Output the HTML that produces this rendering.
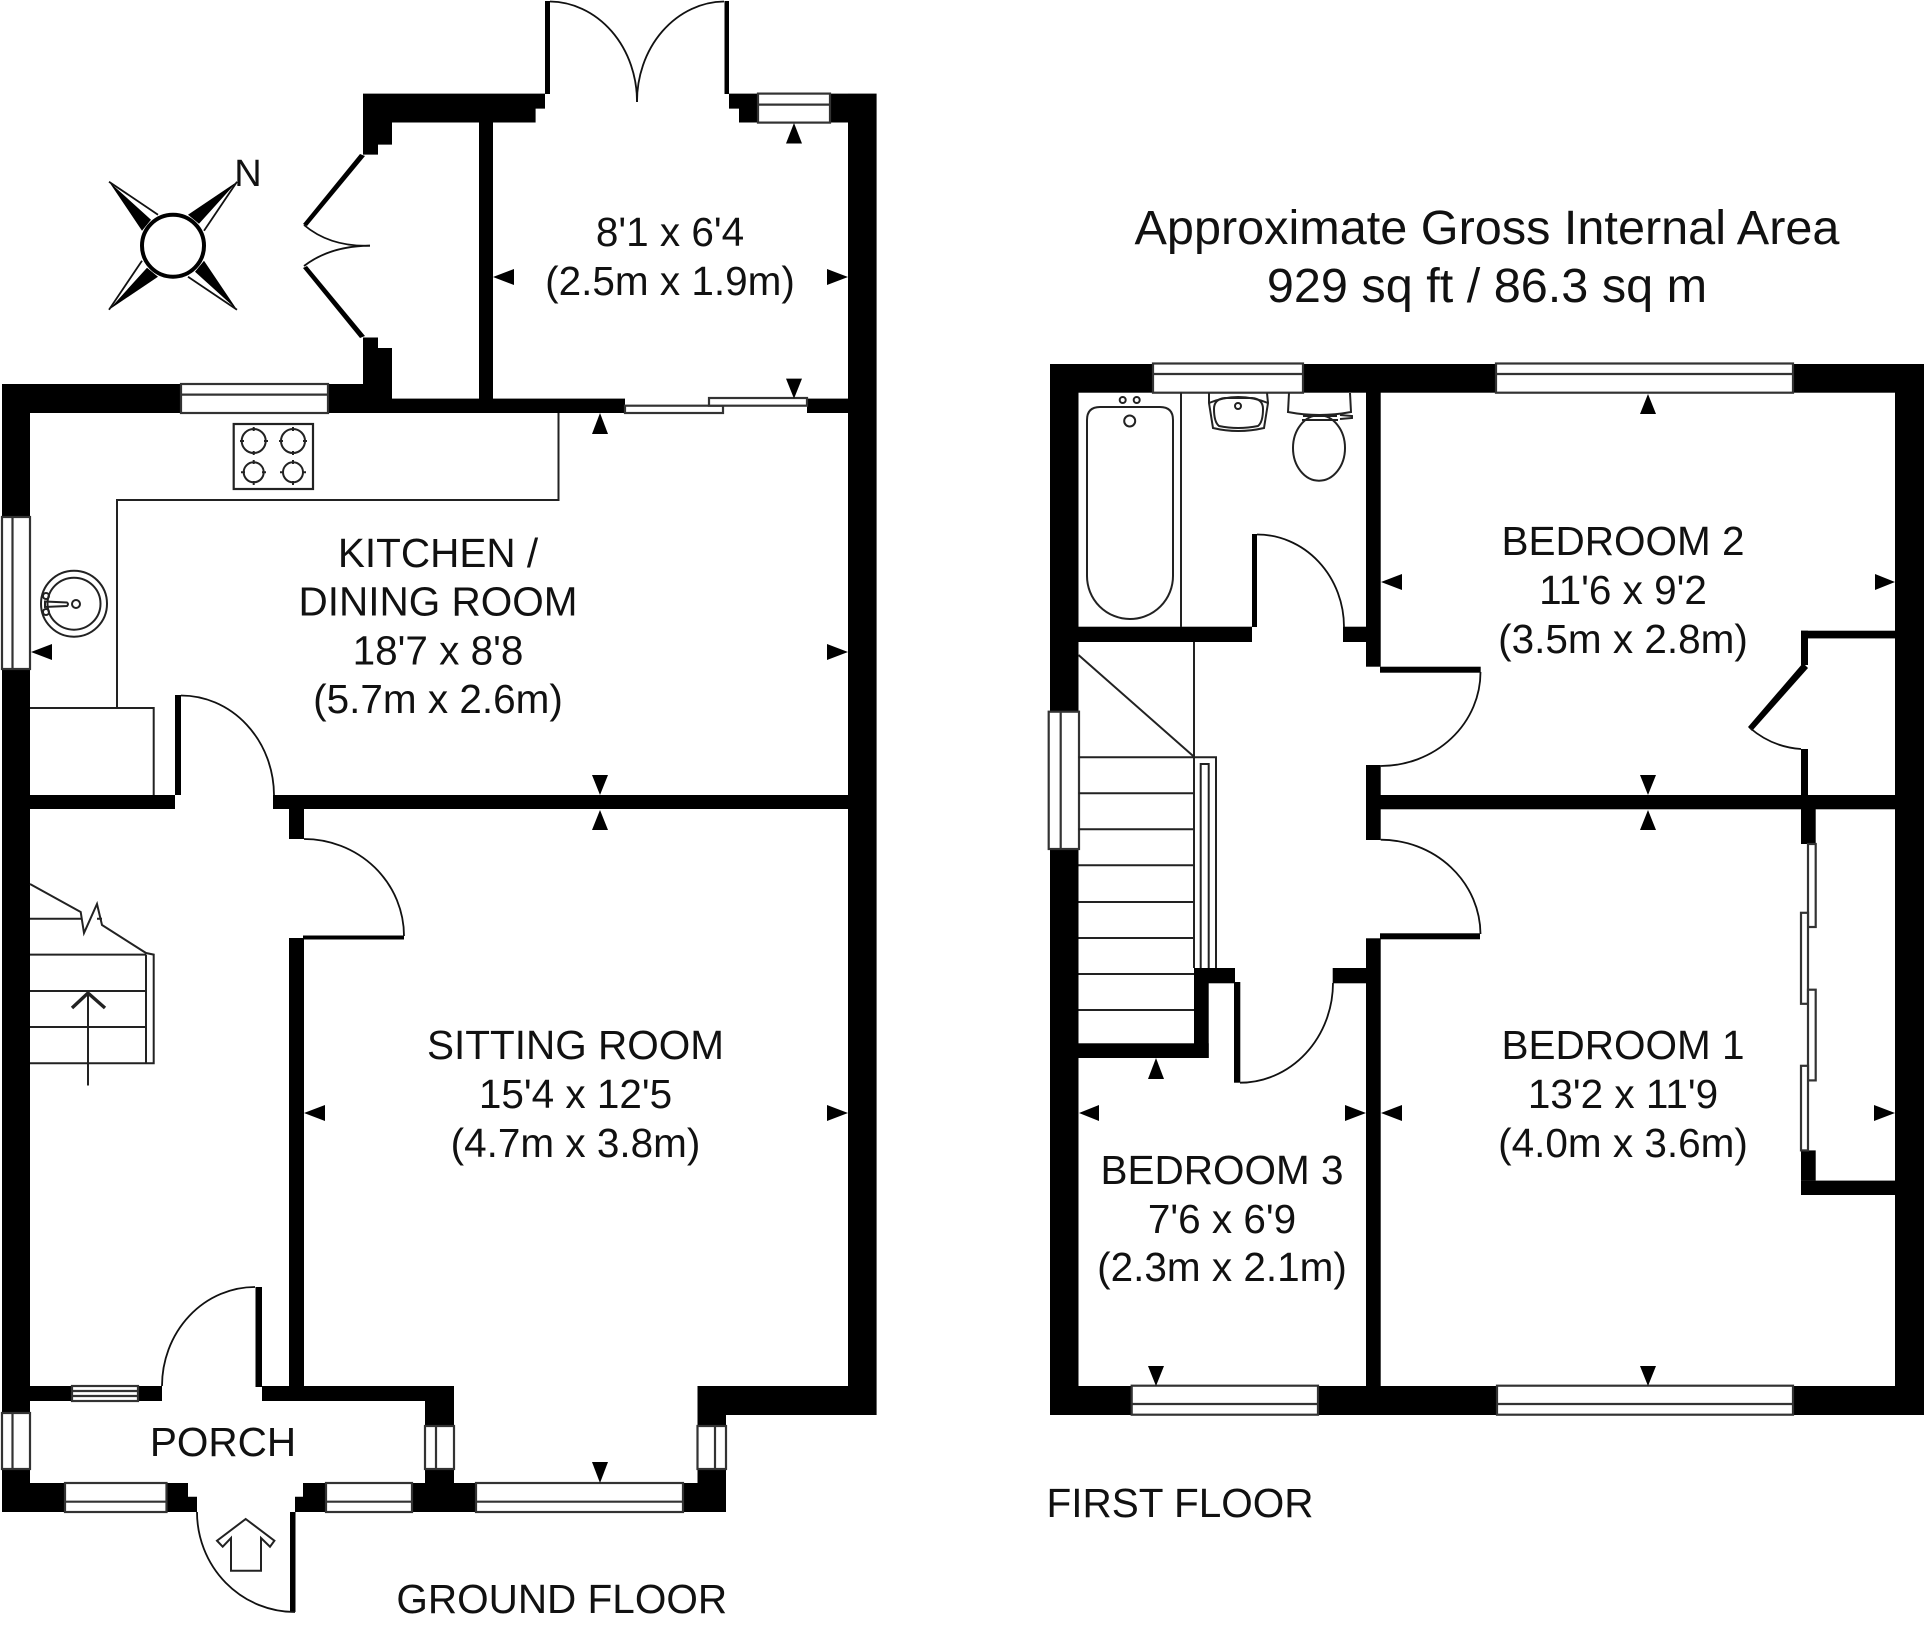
<!DOCTYPE html>
<html><head><meta charset="utf-8"><title>Floor plan</title>
<style>html,body{margin:0;padding:0;background:#fff;width:1924px;height:1628px;overflow:hidden}
svg{display:block}
text{font-family:"Liberation Sans",Arial,sans-serif;font-size:40.5px;fill:#111;text-anchor:middle}
.w{fill:#fff;stroke:#333;stroke-width:2.2}
.l{fill:none;stroke:#000;stroke-width:2.2}
.t{fill:none;stroke:#111;stroke-width:1.8}
.g{fill:none;stroke:#222;stroke-width:2}
</style></head><body>
<svg width="1924" height="1628" viewBox="0 0 1924 1628" xmlns="http://www.w3.org/2000/svg">
<rect width="1924" height="1628" fill="#fff"/>

<!-- GROUND FLOOR walls -->
<g fill="#000">
<rect x="2" y="384" width="28" height="1128"/>
<rect x="2" y="384" width="390" height="29"/>
<polygon points="363,93.6 363,154.6 378,154.6 378,144.6 392,144.6 392,122.5 535.6,122.5 535.6,108.6 545,108.6 545,93.6"/>
<polygon points="363,337.5 378,337.5 378,348 392,348 392,413 363,413"/>
<rect x="392" y="398.6" width="233" height="14.4"/>
<rect x="479" y="122" width="14" height="278"/>
<rect x="807" y="398.6" width="41" height="14.4"/>
<rect x="848" y="93.6" width="28.6" height="1321.4"/>
<polygon points="729,93.6 848,93.6 848,122.5 739,122.5 739,108.6 729,108.6"/>
<rect x="545" y="1" width="5" height="93"/>
<rect x="724.5" y="1" width="4.5" height="93"/>
<polygon points="360,154 365,156 307,226 303,224" />
<polygon points="360,338 365,336 307,266 303,268" />
<rect x="30" y="795" width="145" height="14"/>
<rect x="175" y="695" width="6" height="100"/>
<rect x="273" y="795" width="575" height="14"/>
<rect x="289" y="809" width="15" height="30"/>
<rect x="303" y="935.5" width="101" height="4"/>
<rect x="289" y="938" width="15" height="448"/>
<rect x="30" y="1386" width="132" height="15"/>
<rect x="255.5" y="1287" width="6.5" height="100"/>
<rect x="262" y="1386" width="192" height="15"/>
<rect x="425" y="1386" width="29" height="126"/>
<rect x="697.5" y="1386" width="179" height="29"/>
<rect x="697.5" y="1386" width="28.5" height="126"/>
<polygon points="2,1483 188,1483 188,1496.7 197,1496.7 197,1512 2,1512"/>
<polygon points="303,1483 726,1483 726,1512 295,1512 295,1496.7 303,1496.7"/>
<rect x="290" y="1512" width="5.5" height="100"/>
</g>
<rect x="454" y="1386" width="243.5" height="97" fill="#fff"/>

<!-- ground windows -->
<g class="w">
<rect x="181" y="384" width="147" height="29"/>
<path d="M181,394.6H328"/>
<rect x="758" y="93.6" width="72" height="29"/>
<path d="M758,104.6H830"/>
<rect x="625" y="405.7" width="98" height="7.3"/>
<rect x="709" y="398" width="98" height="7.7"/>
<rect x="2" y="517" width="28" height="152"/>
<path d="M12.5,517V669"/>
<rect x="72" y="1386" width="66" height="15"/>
<path d="M72,1391H138M72,1396H138"/>
<rect x="2" y="1413" width="28" height="56"/>
<path d="M12.5,1413V1469"/>
<rect x="425" y="1426" width="29" height="43"/>
<path d="M436,1426V1469"/>
<rect x="697.5" y="1426" width="28.5" height="43"/>
<path d="M715,1426V1469"/>
<rect x="65" y="1483" width="101.5" height="29"/>
<path d="M65,1501.7H166.5"/>
<rect x="326" y="1483" width="86" height="29"/>
<path d="M326,1501.7H412"/>
<rect x="476" y="1483" width="207" height="29"/>
<path d="M476,1501.7H683"/>
</g>

<!-- ground door arcs -->
<g class="t">
<path d="M550,1.5A88,100 0 0 1 637,102"/>
<path d="M724,1.5A88,100 0 0 0 637,102"/>
<path d="M304,225Q330,247 370,245.7"/>
<path d="M304,266Q330,246 370,245.7"/>
<path d="M181,695.5A93,100 0 0 1 274,795"/>
<path d="M304,839A100,97 0 0 1 404,936"/>
<path d="M255,1287A93,99 0 0 0 162,1386"/>
<path d="M197,1512A98,100 0 0 0 295,1612"/>
</g>

<!-- kitchen -->
<g class="g">
<path d="M558.5,413V500H117V708"/>
<path d="M30,708H153.7V795"/>
<rect x="233.7" y="424" width="79.3" height="65" stroke-width="2.2"/>
<circle cx="253.7" cy="441" r="12"/><circle cx="293" cy="441" r="12"/>
<circle cx="253.7" cy="472.3" r="10"/><circle cx="293" cy="472.3" r="10"/>
<path d="M253.7,427V431M253.7,451V455M240,441H244M264,441H268M293,427V431M293,451V455M279,441H283M303,441H307M253.7,460V464M253.7,481V485M241,472.3H245M262,472.3H266M293,460V464M293,481V485M280,472.3H284M302,472.3H306"/>
<ellipse cx="74" cy="603.7" rx="33" ry="33"/>
<ellipse cx="74" cy="603.7" rx="26.5" ry="26"/>
<circle cx="76" cy="604" r="4"/>
<path d="M45,601.5L67,602.5Q69,604 67,606L45,607Z"/>
<circle cx="46" cy="596" r="3"/><circle cx="46" cy="612" r="3"/>
</g>

<!-- ground stairs -->
<g class="g">
<path d="M30,884L80.7,912L84,933L97,904L102,925L146,953L153.7,954.6V1063.3H30"/>
<path d="M30,918.7H81M97,918.7H102M30,954.6H146M30,991H146M30,1027H146M146,954.6V1063.3"/>
<path d="M88,1085.5V993"/>
<path d="M72,1008L88,993L105,1008" stroke-width="3.4"/>
</g>

<!-- entry arrow -->
<path class="g" d="M245.7,1519L274.4,1540.7L270,1546.7L261,1538V1570.7H231V1538L222.7,1546.7L217,1540.7Z"/>

<!-- compass -->
<g transform="translate(173,245.7)">
<g><polygon points="64,-64 15,-31 26,-22" fill="#000"/><path d="M64,-64L31,-15" class="t"/></g>
<g transform="rotate(90)"><polygon points="64,-64 15,-31 26,-22" fill="#000"/><path d="M64,-64L31,-15" class="t"/></g>
<g transform="rotate(180)"><polygon points="64,-64 15,-31 26,-22" fill="#000"/><path d="M64,-64L31,-15" class="t"/></g>
<g transform="rotate(270)"><polygon points="64,-64 15,-31 26,-22" fill="#000"/><path d="M64,-64L31,-15" class="t"/></g>
<circle r="31" fill="#fff" stroke="#000" stroke-width="4"/>
</g>
<text x="248" y="186" style="font-size:38px">N</text>

<!-- FIRST FLOOR walls -->
<g fill="#000">
<rect x="1050" y="364" width="874" height="28.7"/>
<rect x="1050" y="364" width="28.5" height="1051"/>
<rect x="1895" y="364" width="29" height="1051"/>
<rect x="1050" y="1386" width="874" height="29"/>
<rect x="1366" y="392" width="14.7" height="274.7"/>
<rect x="1078" y="626.7" width="174" height="15.3"/>
<rect x="1252" y="534" width="5" height="93"/>
<rect x="1343" y="626.7" width="23" height="15.3"/>
<rect x="1380" y="666.7" width="100.7" height="6"/>
<rect x="1366" y="765" width="14.7" height="75"/>
<rect x="1380" y="795" width="515" height="14.3"/>
<rect x="1380" y="933.3" width="100" height="6"/>
<rect x="1366" y="938.3" width="14.7" height="450"/>
<rect x="1332.7" y="968" width="33.3" height="15.3"/>
<rect x="1194" y="968" width="41" height="15.3"/>
<rect x="1194" y="968" width="14.7" height="90"/>
<rect x="1078" y="1043.3" width="130.7" height="14.7"/>
<rect x="1234" y="982" width="6.3" height="100.7"/>
<rect x="1801" y="630.7" width="94" height="7.7"/>
<rect x="1801" y="630.7" width="7" height="34.3"/>
<polygon points="1803,663 1808,668 1752,731 1748,727"/>
<rect x="1801" y="749" width="7" height="46"/>
<rect x="1801" y="809" width="14.7" height="35"/>
<rect x="1801" y="1150.4" width="14.7" height="30.2"/>
<rect x="1801" y="1180.6" width="94" height="14.4"/>
</g>

<!-- first windows -->
<g class="w">
<rect x="1153" y="363.5" width="150" height="29.2"/>
<path d="M1153,374H1303"/>
<rect x="1496" y="363.5" width="297" height="29.2"/>
<path d="M1496,374H1793"/>
<rect x="1131.7" y="1385.7" width="186.3" height="29"/>
<path d="M1131.7,1404H1318"/>
<rect x="1497" y="1385.7" width="296" height="29"/>
<path d="M1497,1404H1793"/>
<rect x="1048.7" y="711.7" width="30.3" height="137.3"/>
<path d="M1060.7,711.7V849"/>
<rect x="1808" y="844" width="7.7" height="83"/>
<rect x="1801" y="912.8" width="7" height="91"/>
<rect x="1808" y="989.7" width="7.7" height="90.7"/>
<rect x="1801" y="1065.8" width="7" height="84.6"/>
</g>

<!-- first floor arcs -->
<g class="t">
<path d="M1257,534.5A87,92.5 0 0 1 1344,627"/>
<path d="M1480.5,672A100,94 0 0 1 1380.7,766"/>
<path d="M1380.7,839.7A100,95 0 0 1 1480.5,934"/>
<path d="M1240,1082.7A93,100 0 0 0 1333,983"/>
<path d="M1750,728Q1772,747 1801,749"/>
</g>

<!-- bathroom -->
<g class="g">
<path d="M1181,392.7V627"/>
<path d="M1087,420Q1087,407 1100,407H1160Q1173,407 1173,420V576A43,43 0 0 1 1087,576Z"/>
<circle cx="1122.7" cy="400" r="3"/><circle cx="1136.7" cy="400" r="3"/>
<circle cx="1129.7" cy="421" r="5.5"/>
<path d="M1209,393L1209,403L1213,428Q1238,434 1264,428L1268,403L1267,393"/>
<path d="M1209,403Q1238,391 1268,403"/>
<path d="M1214,409Q1214,399 1225,398H1252Q1263,399 1263,409Q1263,422 1258,426Q1238,430 1219,426Q1214,422 1214,409Z"/>
<circle cx="1238" cy="406" r="3"/>
<path d="M1289,393L1288,412Q1319,418 1351,412L1350,393"/>
<ellipse cx="1319" cy="448" rx="26" ry="32.7"/>
<path d="M1303,416H1337M1302,420H1338M1340,415L1352,416V418L1340,419"/>
</g>

<!-- first stairs -->
<g class="g">
<path d="M1194,642V968"/>
<path d="M1078.5,655L1194,756.7"/>
<path d="M1078.5,757.3H1194M1078.5,793.3H1194M1078.5,829.3H1194M1078.5,865.3H1194M1078.5,902H1194M1078.5,938H1194M1078.5,974H1194M1078.5,1010H1194"/>
<path d="M1194,757.3H1216V968M1200.7,968V764H1208.7V968"/>
</g>

<!-- dimension arrows -->
<g fill="#000">
<path d="M794,123l-8,20.5h16z"/>
<path d="M600,413l-8,21h16z"/>
<path d="M600,810l-8,20h16z"/>
<path d="M1648,394l-8,20h16z"/>
<path d="M1648,810l-8,20h16z"/>
<path d="M1156,1058l-8,21h16z"/>
<path d="M794,398.6l-8,-20h16z"/>
<path d="M600,795l-8,-20h16z"/>
<path d="M600,1483l-8,-21h16z"/>
<path d="M1648,795l-8,-20h16z"/>
<path d="M1648,1386l-8,-20h16z"/>
<path d="M1156,1386l-8,-20h16z"/>
<path d="M493,277l21,-8v16z"/>
<path d="M31,652l21,-8v16z"/>
<path d="M304,1113l21,-8v16z"/>
<path d="M1381,582l21,-8v16z"/>
<path d="M1381,1113l21,-8v16z"/>
<path d="M1079,1113l20,-8v16z"/>
<path d="M848,277l-21,-8v16z"/>
<path d="M848,652l-21,-8v16z"/>
<path d="M848,1113l-21,-8v16z"/>
<path d="M1895,582l-20,-8v16z"/>
<path d="M1895,1113l-21,-8v16z"/>
<path d="M1366,1113l-21,-8v16z"/>
</g>

<!-- labels -->
<text x="670" y="246">8'1 x 6'4</text>
<text x="670" y="295">(2.5m x 1.9m)</text>
<text x="438" y="567">KITCHEN /</text>
<text x="438" y="615.5">DINING ROOM</text>
<text x="438" y="664.5">18'7 x 8'8</text>
<text x="438" y="713">(5.7m x 2.6m)</text>
<text x="575.5" y="1059">SITTING ROOM</text>
<text x="575.5" y="1108">15'4 x 12'5</text>
<text x="575.5" y="1157">(4.7m x 3.8m)</text>
<text x="223" y="1456">PORCH</text>
<text x="561.7" y="1613">GROUND FLOOR</text>
<text x="1180" y="1517">FIRST FLOOR</text>
<text x="1623" y="555">BEDROOM 2</text>
<text x="1623" y="604">11'6 x 9'2</text>
<text x="1623" y="653">(3.5m x 2.8m)</text>
<text x="1623" y="1059">BEDROOM 1</text>
<text x="1623" y="1108">13'2 x 11'9</text>
<text x="1623" y="1157">(4.0m x 3.6m)</text>
<text x="1222" y="1184">BEDROOM 3</text>
<text x="1222" y="1233">7'6 x 6'9</text>
<text x="1222" y="1281">(2.3m x 2.1m)</text>
<text x="1487" y="244" style="font-size:48.6px">Approximate Gross Internal Area</text>
<text x="1487" y="302" style="font-size:48.6px">929 sq ft / 86.3 sq m</text>
</svg>
</body></html>
